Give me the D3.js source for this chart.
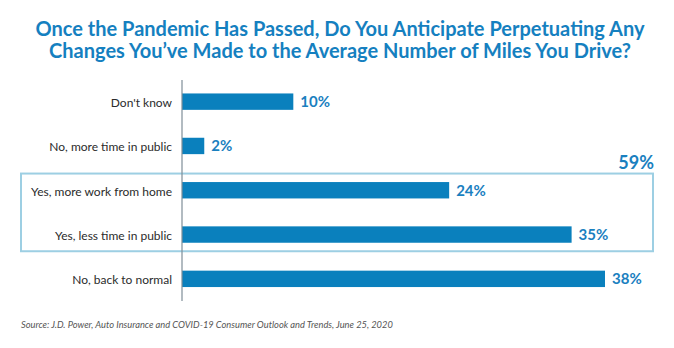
<!DOCTYPE html>
<html>
<head>
<meta charset="utf-8">
<script src="https://cdn.jsdelivr.net/npm/d3@7"></script>
<style>
  body { margin: 0; background: #fff; }
  svg { display: block; }
</style>
</head>
<body>
<script>
// answers, top to bottom
var answers = ["Don't know", "No, more time in public", "Yes, more work from home", "Yes, less time in public", "No, back to normal"];
var shares = [10, 2, 24, 35, 38];
// the two "yes" rows are grouped under a combined total
var groupRows = ["Yes, more work from home", "Yes, less time in public"];
var groupLabel = "59%";

var titleLines = [
  "Once the Pandemic Has Passed, Do You Anticipate Perpetuating Any",
  "Changes You\u2019ve Made to the Average Number of Miles You Drive?"
];
var sourceNote = "Source: J.D. Power, Auto Insurance and COVID-19 Consumer Outlook and Trends, June 25, 2020";

var W = 674, H = 348;
var blue = "#0a80bd", labelBlue = "#1a80bf";

var svg = d3.select("body").append("svg")
    .attr("width", W)
    .attr("height", H);

svg.selectAll("text.title")
    .data(titleLines)
  .enter().append("text")
    .attr("class", "title")
    .attr("x", 340)
    .attr("y", function(d, i) { return 36 + i * 22; })
    .attr("text-anchor", "middle")
    .attr("font-family", "Lato")
    .attr("font-weight", "bold")
    .attr("font-size", 20)
    .attr("fill", "#1580c0")
    .text(function(d) { return d; });

var x = d3.scaleLinear().domain([0, 38]).range([182, 605]);
var y = d3.scaleBand().domain(answers).range([79.5, 301]).paddingInner(0.63).paddingOuter(0.315);

// grouping box behind the bars
var g0 = y(groupRows[0]), g1 = y(groupRows[1]) + y.bandwidth();
svg.append("rect")
    .attr("x", 21)
    .attr("y", g0 - 8.5)
    .attr("width", 632)
    .attr("height", g1 - g0 + 17)
    .attr("fill", "none")
    .attr("stroke", "#9dcfe3")
    .attr("stroke-width", 2);

svg.append("text")
    .attr("x", 654)
    .attr("y", g0 - 13)
    .attr("text-anchor", "end")
    .attr("font-family", "Lato")
    .attr("font-weight", "bold")
    .attr("font-size", 18)
    .attr("fill", labelBlue)
    .text(groupLabel);

svg.selectAll("rect.bar")
    .data(shares)
  .enter().append("rect")
    .attr("class", "bar")
    .attr("x", x(0))
    .attr("y", function(d, i) { return y(answers[i]); })
    .attr("width", function(d) { return x(d) - x(0); })
    .attr("height", y.bandwidth())
    .attr("fill", blue);

svg.selectAll("text.val")
    .data(shares)
  .enter().append("text")
    .attr("class", "val")
    .attr("x", function(d) { return x(d) + 7; })
    .attr("y", function(d, i) { return y(answers[i]) + y.bandwidth() / 2 + 5.5; })
    .attr("font-family", "Lato")
    .attr("font-weight", "bold")
    .attr("font-size", 15)
    .attr("fill", labelBlue)
    .text(function(d) { return d + "%"; });

// category axis
var axis = svg.append("g")
    .attr("transform", "translate(" + x(0) + ",0)")
    .call(d3.axisLeft(y).tickSize(0).tickPadding(10));
axis.select(".domain")
    .attr("d", "M0,80V301")
    .attr("stroke", "#7f8e98")
    .attr("stroke-width", 1.2);
axis.selectAll("text")
    .attr("dy", "0.45em")
    .attr("font-family", "Lato")
    .attr("font-size", 12)
    .attr("fill", "#2b2b2b");

svg.append("text")
    .attr("x", 21)
    .attr("y", 328)
    .attr("font-family", "Lato")
    .attr("font-style", "italic")
    .attr("font-size", 9.3)
    .attr("fill", "#555")
    .text(sourceNote);
</script>
</body>
</html>
